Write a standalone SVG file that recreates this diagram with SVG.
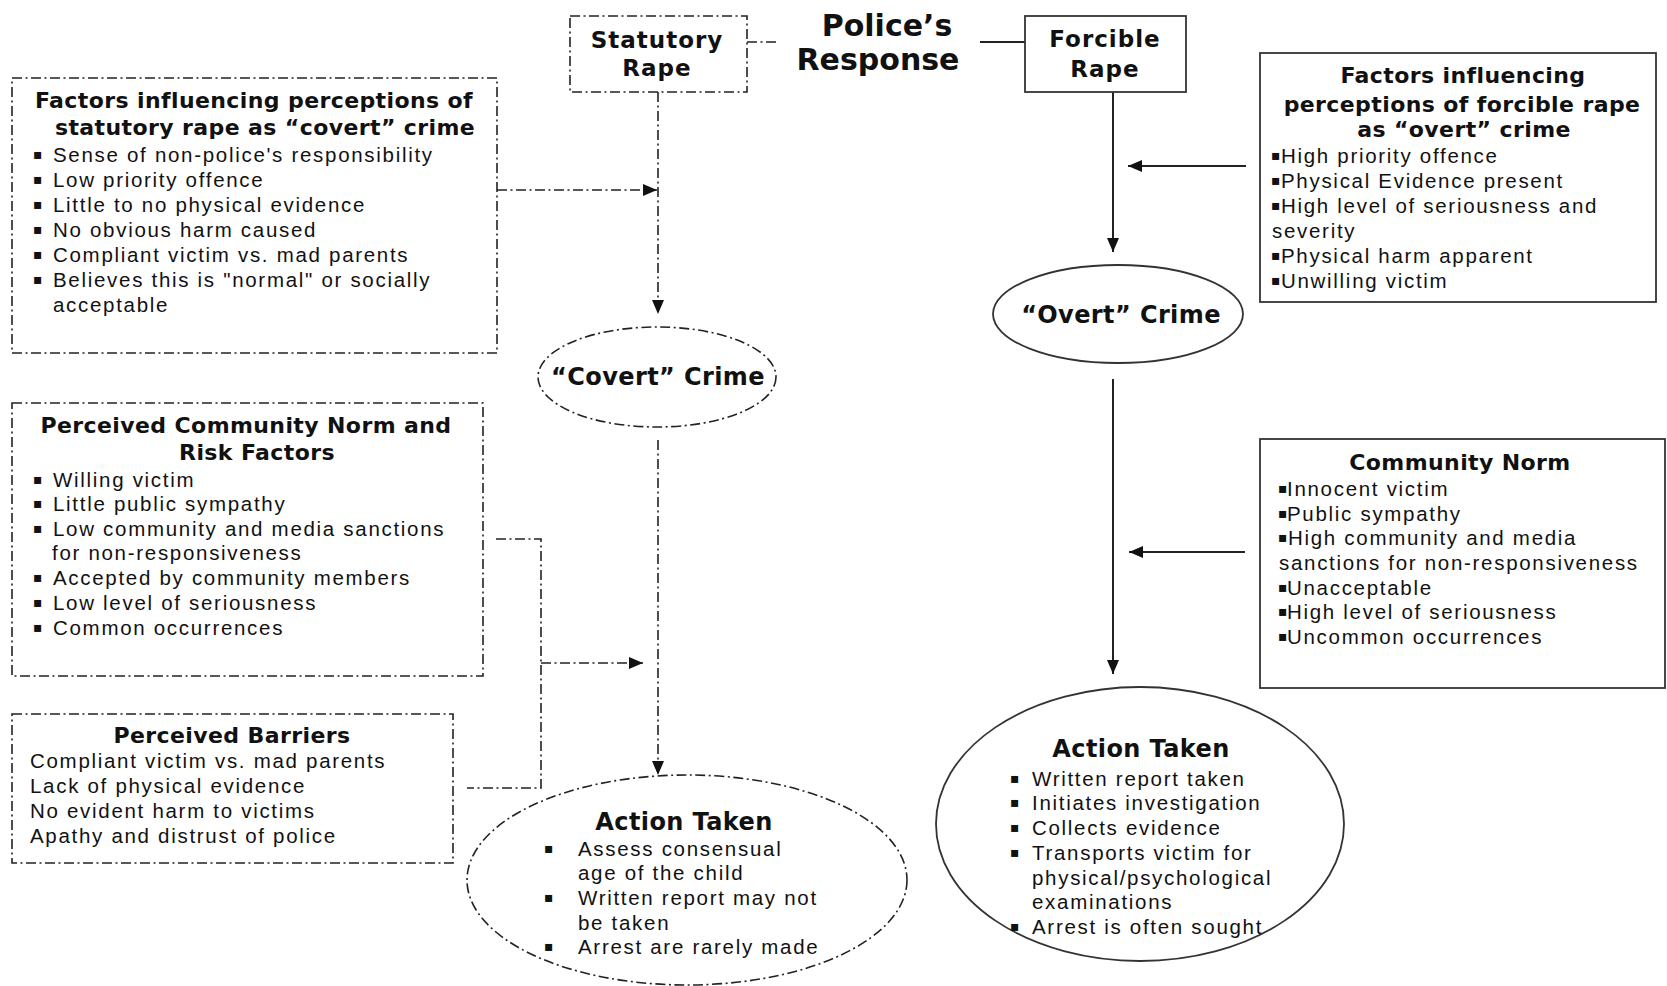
<svg xmlns="http://www.w3.org/2000/svg" width="1667" height="986" viewBox="0 0 1667 986">
<defs>
<style>
.bg{fill:#fff}
.dd{fill:none;stroke:#222;stroke-width:1.6;stroke-dasharray:10 3.5 2 3.5}
.box{fill:#fff;stroke:#222;stroke-width:1.6;stroke-dasharray:10 3.5 2 3.5}
.sbox{fill:#fff;stroke:#333;stroke-width:1.8}
.sl{fill:none;stroke:#222;stroke-width:2}
.ttl{font-family:"DejaVu Sans","Verdana",sans-serif;font-weight:bold;font-size:22px;letter-spacing:0.4px;fill:#111;text-anchor:middle}
.big{font-family:"DejaVu Sans","Verdana",sans-serif;font-weight:bold;font-size:24px;letter-spacing:0.4px;fill:#111;text-anchor:middle}
.hdr{font-family:"DejaVu Sans","Verdana",sans-serif;font-weight:bold;font-size:23px;letter-spacing:1px;fill:#111;text-anchor:middle}
.pol{font-family:"DejaVu Sans","Verdana",sans-serif;font-weight:bold;font-size:30px;fill:#111;text-anchor:middle}
.b{font-family:"Liberation Sans","Arial",sans-serif;font-size:20.5px;letter-spacing:1.7px;fill:#111}
.bul{font-family:"DejaVu Sans",sans-serif;font-size:14px;fill:#111}
</style>
<marker id="ah" markerUnits="userSpaceOnUse" markerWidth="14" markerHeight="12" refX="14" refY="6" orient="auto">
<path d="M0,0 L14,6 L0,12 z" fill="#111" stroke="none"/>
</marker>
</defs>
<rect class="bg" x="0" y="0" width="1667" height="986"/>

<g id="connectors">
<line class="dd" x1="747" y1="42" x2="777" y2="42"/>
<line class="sl" x1="980" y1="42" x2="1025" y2="42"/>
<line class="dd" x1="658" y1="92" x2="658" y2="314" marker-end="url(#ah)"/>
<line class="dd" x1="497" y1="190" x2="657" y2="190" marker-end="url(#ah)"/>
<line class="dd" x1="658" y1="440" x2="658" y2="775" marker-end="url(#ah)"/>
<polyline class="dd" points="496,539 541,539 541,788 467,788"/>
<line class="dd" x1="541" y1="663" x2="643" y2="663" marker-end="url(#ah)"/>
<line class="sl" x1="1113" y1="92" x2="1113" y2="252" marker-end="url(#ah)"/>
<line class="sl" x1="1246" y1="166" x2="1128" y2="166" marker-end="url(#ah)"/>
<line class="sl" x1="1113" y1="379" x2="1113" y2="674" marker-end="url(#ah)"/>
<line class="sl" x1="1245" y1="552" x2="1129" y2="552" marker-end="url(#ah)"/>
</g>

<g id="police-response">
<text class="pol" x="887" y="36">Police’s</text>
<text class="pol" x="878" y="70">Response</text>
</g>

<g id="statutory-rape">
<rect class="box" x="570" y="16" width="177" height="76"/>
<text class="hdr" x="657" y="48">Statutory</text>
<text class="hdr" x="657" y="76">Rape</text>
</g>

<g id="forcible-rape">
<rect class="sbox" x="1025" y="16" width="161" height="76"/>
<text class="hdr" x="1105" y="47">Forcible</text>
<text class="hdr" x="1105" y="77">Rape</text>
</g>

<g id="factors-statutory">
<rect class="box" x="12" y="78" width="485" height="275"/>
<text class="ttl" x="254" y="108">Factors influencing perceptions of</text>
<text class="ttl" x="265" y="135">statutory rape as “covert” crime</text>
<text class="bul" x="33" y="159">▪</text><text class="b" x="53" y="162">Sense of non-police's responsibility</text>
<text class="bul" x="33" y="184">▪</text><text class="b" x="53" y="187">Low  priority offence</text>
<text class="bul" x="33" y="209">▪</text><text class="b" x="53" y="212">Little to no physical evidence</text>
<text class="bul" x="33" y="234">▪</text><text class="b" x="53" y="237">No obvious harm caused</text>
<text class="bul" x="33" y="259">▪</text><text class="b" x="53" y="262">Compliant victim vs. mad parents</text>
<text class="bul" x="33" y="284">▪</text><text class="b" x="53" y="287">Believes this is "normal" or socially</text>
<text class="b" x="53" y="312">acceptable</text>
</g>

<g id="community-norm-risk">
<rect class="box" x="12" y="403" width="471" height="273"/>
<text class="ttl" x="246" y="433">Perceived Community Norm and</text>
<text class="ttl" x="257" y="460">Risk Factors</text>
<text class="bul" x="33" y="484">▪</text><text class="b" x="53" y="487">Willing victim</text>
<text class="bul" x="33" y="508">▪</text><text class="b" x="53" y="511">Little public sympathy</text>
<text class="bul" x="33" y="533">▪</text><text class="b" x="53" y="536">Low community and media sanctions</text>
<text class="b" x="52" y="560">for non-responsiveness</text>
<text class="bul" x="33" y="582">▪</text><text class="b" x="53" y="585">Accepted by community members</text>
<text class="bul" x="33" y="607">▪</text><text class="b" x="53" y="610">Low level of seriousness</text>
<text class="bul" x="33" y="632">▪</text><text class="b" x="53" y="635">Common occurrences</text>
</g>

<g id="perceived-barriers">
<rect class="box" x="12" y="714" width="441" height="149"/>
<text class="ttl" x="232" y="743">Perceived Barriers</text>
<text class="b" x="30" y="768">Compliant victim vs. mad parents</text>
<text class="b" x="30" y="793">Lack of physical evidence</text>
<text class="b" x="30" y="818">No evident harm to victims</text>
<text class="b" x="30" y="843">Apathy and distrust of police</text>
</g>

<g id="covert-crime">
<ellipse class="box" cx="657" cy="377" rx="119" ry="50"/>
<text class="big" x="658" y="385">“Covert” Crime</text>
</g>

<g id="action-statutory">
<ellipse class="box" cx="687" cy="880" rx="220" ry="105"/>
<text class="big" x="684" y="830">Action Taken</text>
<text class="bul" x="544" y="853">▪</text><text class="b" x="578" y="856">Assess consensual</text>
<text class="b" x="578" y="880">age of the child</text>
<text class="bul" x="544" y="902">▪</text><text class="b" x="578" y="905">Written report may not</text>
<text class="b" x="578" y="930">be taken</text>
<text class="bul" x="544" y="951">▪</text><text class="b" x="578" y="954">Arrest are rarely made</text>
</g>

<g id="factors-forcible">
<rect class="sbox" x="1260" y="53" width="396" height="249"/>
<text class="ttl" x="1463" y="83">Factors influencing</text>
<text class="ttl" x="1462" y="112">perceptions of forcible rape</text>
<text class="ttl" x="1464" y="137">as “overt” crime</text>
<text class="bul" x="1271" y="160">▪</text><text class="b" x="1281" y="163">High priority offence</text>
<text class="bul" x="1271" y="185">▪</text><text class="b" x="1281" y="188">Physical Evidence present</text>
<text class="bul" x="1271" y="210">▪</text><text class="b" x="1281" y="213">High level of seriousness and</text>
<text class="b" x="1272" y="238">severity</text>
<text class="bul" x="1271" y="260">▪</text><text class="b" x="1281" y="263">Physical harm apparent</text>
<text class="bul" x="1271" y="285">▪</text><text class="b" x="1281" y="288">Unwilling victim</text>
</g>

<g id="overt-crime">
<ellipse class="sbox" cx="1118" cy="314" rx="125" ry="49"/>
<text class="big" x="1121" y="323">“Overt” Crime</text>
</g>

<g id="community-norm">
<rect class="sbox" x="1260" y="439" width="405" height="249"/>
<text class="ttl" x="1460" y="470">Community Norm</text>
<text class="bul" x="1278" y="493">▪</text><text class="b" x="1287" y="496">Innocent victim</text>
<text class="bul" x="1278" y="518">▪</text><text class="b" x="1287" y="521">Public sympathy</text>
<text class="bul" x="1278" y="542">▪</text><text class="b" x="1288" y="545">High community and media</text>
<text class="b" x="1279" y="570">sanctions for non-responsiveness</text>
<text class="bul" x="1278" y="592">▪</text><text class="b" x="1287" y="595">Unacceptable</text>
<text class="bul" x="1278" y="616">▪</text><text class="b" x="1287" y="619">High level of seriousness</text>
<text class="bul" x="1278" y="641">▪</text><text class="b" x="1287" y="644">Uncommon occurrences</text>
</g>

<g id="action-forcible">
<ellipse class="sbox" cx="1140" cy="824" rx="204" ry="137"/>
<text class="big" x="1141" y="757">Action Taken</text>
<text class="bul" x="1010" y="783">▪</text><text class="b" x="1032" y="786">Written report taken</text>
<text class="bul" x="1010" y="807">▪</text><text class="b" x="1032" y="810">Initiates investigation</text>
<text class="bul" x="1010" y="832">▪</text><text class="b" x="1032" y="835">Collects evidence</text>
<text class="bul" x="1010" y="857">▪</text><text class="b" x="1032" y="860">Transports victim for</text>
<text class="b" x="1032" y="885">physical/psychological</text>
<text class="b" x="1032" y="909">examinations</text>
<text class="bul" x="1010" y="931">▪</text><text class="b" x="1032" y="934">Arrest is often sought</text>
</g>
</svg>
